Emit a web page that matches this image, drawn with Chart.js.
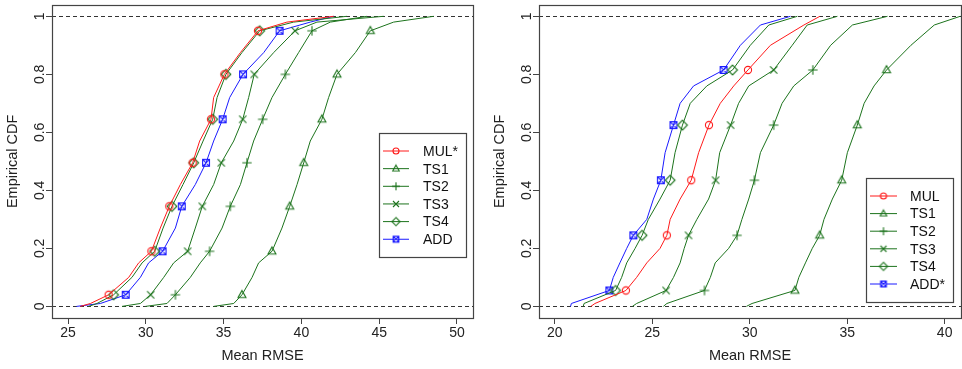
<!DOCTYPE html>
<html lang="en">
<head>
<meta charset="utf-8">
<script src="https://cdn.jsdelivr.net/npm/chart.js@4.4.0/dist/chart.umd.min.js"></script>
<style>
  body { margin: 0; background: #fff; }
  #wrap { position: relative; width: 962px; height: 369px; }
  .panel { position: absolute; top: 0; width: 481px; height: 369px; }
</style>
</head>
<body>
<div id="wrap">
  <div class="panel" style="left:0"><canvas id="left-chart" width="481" height="369"></canvas></div>
  <div class="panel" style="left:481px"><canvas id="right-chart" width="481" height="369"></canvas></div>
</div>
<script>
  // left panel: CDF levels the curves were read at, and the ones that carry a marker
  const levelsL = [0, 0.01, 0.04, 0.1, 0.15, 0.19, 0.27, 0.345, 0.42, 0.495, 0.57, 0.645, 0.72, 0.8, 0.875, 0.95, 0.98, 1];
  const markAtL = [2, 5, 7, 9, 11, 13, 15];
  const namesL = ['MUL*', 'TS1', 'TS2', 'TS3', 'TS4', 'ADD'];
  const mulL = [25.79, 26.44, 27.61, 28.90, 29.54, 30.36, 30.93, 31.51, 32.22, 33.01, 33.46, 34.19, 34.36, 35.05, 36.08, 37.21, 39.07, 42.07];
  const ts1L = [34.36, 35.65, 36.18, 36.83, 37.25, 38.11, 38.75, 39.25, 39.72, 40.15, 40.57, 41.32, 41.75, 42.29, 43.47, 44.43, 45.93, 48.50];
  const ts2L = [29.97, 31.36, 31.90, 32.86, 33.50, 34.10, 34.90, 35.43, 36.08, 36.50, 36.93, 37.51, 38.11, 38.97, 39.82, 40.68, 41.86, 44.22];
  const ts3L = [28.47, 29.65, 30.31, 31.15, 31.79, 32.69, 33.18, 33.63, 34.36, 34.85, 35.65, 36.23, 36.61, 36.97, 38.22, 39.59, 41.00, 45.29];
  const ts4L = [26.33, 26.86, 27.93, 29.11, 29.76, 30.57, 31.11, 31.68, 32.39, 33.08, 33.68, 34.30, 34.58, 35.15, 36.18, 37.32, 39.50, 42.93];
  const addL = [25.54, 27.08, 28.71, 29.65, 30.18, 31.08, 31.90, 32.31, 33.18, 33.87, 34.36, 34.94, 35.39, 36.25, 37.58, 38.60, 40.57, 42.07];
  const xTicksL = [25, 30, 35, 40, 45, 50];

  // right panel
  const levelsR = [0, 0.01, 0.055, 0.1, 0.15, 0.2, 0.245, 0.3, 0.37, 0.435, 0.53, 0.625, 0.7, 0.76, 0.815, 0.9, 0.97, 1];
  const markAtR = [2, 6, 9, 11, 14];
  const namesR = ['MUL', 'TS1', 'TS2', 'TS3', 'TS4', 'ADD*'];
  const mulR = [21.85, 22.06, 23.65, 24.20, 24.72, 25.40, 25.75, 25.92, 26.43, 27.00, 27.38, 27.91, 28.49, 29.18, 29.91, 31.06, 32.78, 33.60];
  const ts1R = [29.83, 30.12, 32.32, 32.52, 32.86, 33.21, 33.59, 33.81, 34.24, 34.72, 35.01, 35.52, 35.87, 36.38, 37.02, 38.27, 39.47, 40.80];
  const ts2R = [25.57, 25.75, 27.68, 27.98, 28.23, 28.92, 29.35, 29.60, 29.95, 30.24, 30.55, 31.23, 31.66, 32.26, 33.24, 34.15, 35.27, 37.07];
  const ts3R = [23.98, 24.20, 25.71, 26.09, 26.43, 26.64, 26.86, 27.29, 27.89, 28.25, 28.46, 29.02, 29.43, 29.95, 31.23, 32.18, 32.95, 34.50];
  const ts4R = [21.46, 21.50, 23.12, 23.43, 23.69, 24.12, 24.48, 24.80, 25.40, 25.92, 26.17, 26.55, 26.95, 27.80, 29.12, 30.03, 30.98, 32.44];
  const addR = [20.81, 20.85, 22.80, 23.00, 23.34, 23.69, 24.03, 24.72, 25.06, 25.44, 25.66, 26.09, 26.43, 27.12, 28.66, 29.52, 30.55, 32.09];
  const xTicksR = [20, 25, 30, 35, 40];

  const yTicks = [0, 0.2, 0.4, 0.6, 0.8, 1];
  const yTickLabels = ['0', '0.2', '0.4', '0.6', '0.8', '1'];

  const RED = '#ff1a1a', GREEN = '#1c731c', BLUE = '#1a1aff', INK = '#333';
  const FONT = 'Liberation Sans, Arial, Helvetica, sans-serif';
  const looks = [
    { color: RED, marker: 'circle' },
    { color: GREEN, marker: 'triangle' },
    { color: GREEN, marker: 'plus' },
    { color: GREEN, marker: 'x' },
    { color: GREEN, marker: 'diamond' },
    { color: BLUE, marker: 'boxx' }
  ];

  // small offscreen canvases used as point styles (R pch 1..5 and 7)
  function makeMarker(type, color, r) {
    const s = Math.ceil(2 * r + 6);
    const c = document.createElement('canvas');
    c.width = s; c.height = s;
    const g = c.getContext('2d');
    const m = s / 2;
    g.strokeStyle = color;
    g.lineWidth = 1.1;
    g.beginPath();
    if (type == 'circle') {
      g.arc(m, m, r, 0, Math.PI * 2);
    } else if (type == 'triangle') {
      g.moveTo(m, m - r * 1.2);
      g.lineTo(m + r * 1.1, m + r * 0.75);
      g.lineTo(m - r * 1.1, m + r * 0.75);
      g.closePath();
    } else if (type == 'plus') {
      g.moveTo(m - r * 1.3, m); g.lineTo(m + r * 1.3, m);
      g.moveTo(m, m - r * 1.3); g.lineTo(m, m + r * 1.3);
    } else if (type == 'x') {
      g.moveTo(m - r, m - r); g.lineTo(m + r, m + r);
      g.moveTo(m + r, m - r); g.lineTo(m - r, m + r);
    } else if (type == 'diamond') {
      g.moveTo(m, m - r * 1.35); g.lineTo(m + r * 1.35, m);
      g.lineTo(m, m + r * 1.35); g.lineTo(m - r * 1.35, m);
      g.closePath();
    } else {
      const h = r * 0.95;
      g.rect(m - h, m - h, 2 * h, 2 * h);
      g.moveTo(m - h, m - h); g.lineTo(m + h, m + h);
      g.moveTo(m + h, m - h); g.lineTo(m - h, m + h);
    }
    g.stroke();
    return c;
  }

  const frame = {
    id: 'frame',
    beforeDatasetsDraw(chart) {
      const { ctx, chartArea: a, scales: { y } } = chart;
      ctx.save();
      ctx.strokeStyle = INK;
      ctx.lineWidth = 1;
      ctx.setLineDash([4, 3]);
      [0, 1].forEach(v => {
        const py = Math.round(y.getPixelForValue(v)) + 0.5;
        ctx.beginPath();
        ctx.moveTo(a.left, py);
        ctx.lineTo(a.right, py);
        ctx.stroke();
      });
      ctx.restore();
    },
    afterDraw(chart) {
      const { ctx, chartArea: a } = chart;
      ctx.save();
      ctx.strokeStyle = '#444';
      ctx.lineWidth = 1.2;
      ctx.strokeRect(Math.round(a.left) + 0.5, Math.round(a.top) + 0.5,
                     Math.round(a.right - a.left), Math.round(a.bottom - a.top));
      ctx.restore();
    }
  };

  // legend drawn inside the plot, R style
  const boxLegend = {
    id: 'boxLegend',
    afterDraw(chart, args, opts) {
      const ctx = chart.ctx;
      ctx.save();
      ctx.strokeStyle = '#444';
      ctx.lineWidth = 1.2;
      ctx.strokeRect(opts.left + 0.5, opts.top + 0.5, opts.width, opts.height);
      ctx.font = '14px ' + FONT;
      ctx.textBaseline = 'middle';
      ctx.fillStyle = '#111';
      chart.data.datasets.forEach((ds, i) => {
        const yy = opts.firstRow + i * opts.rowGap;
        ctx.strokeStyle = looks[i].color;
        ctx.lineWidth = 1;
        ctx.beginPath();
        ctx.moveTo(opts.lineFrom, yy);
        ctx.lineTo(opts.lineTo, yy);
        ctx.stroke();
        const img = makeMarker(looks[i].marker, looks[i].color, 3);
        const mx = (opts.lineFrom + opts.lineTo) / 2;
        ctx.drawImage(img, mx - img.width / 2, yy - img.height / 2);
        ctx.fillText(ds.label, opts.textX, yy + 1);
      });
      ctx.restore();
    }
  };

  function makeChart(elementID, names, levels, series, markAt, xMin, xMax, xTicks, yAxisW, titlePad, padRight, legend) {
    const datasets = series.map((xs, i) => ({
      label: names[i],
      data: xs.map((x, k) => ({ x: x, y: levels[k] })),
      borderColor: looks[i].color,
      backgroundColor: looks[i].color,
      borderWidth: 1,
      tension: 0,
      fill: false,
      pointStyle: makeMarker(looks[i].marker, looks[i].color, 3.6),
      pointRadius: ctx => markAt.includes(ctx.dataIndex) ? 4 : 0,
      pointHoverRadius: 0
    }));
    return new Chart(document.getElementById(elementID), {
      type: 'line',
      data: { datasets: datasets },
      plugins: [frame, boxLegend],
      options: {
        responsive: false,
        animation: false,
        events: [],
        layout: { padding: { top: 4, right: padRight, bottom: 0, left: 0 } },
        plugins: {
          legend: { display: false },
          tooltip: { enabled: false },
          boxLegend: legend
        },
        scales: {
          x: {
            type: 'linear',
            min: xMin, max: xMax,
            afterBuildTicks: s => { s.ticks = xTicks.map(v => ({ value: v })); },
            afterFit: s => { s.height = 51; },
            grid: { drawOnChartArea: false, drawTicks: true, tickLength: 6, color: '#444' },
            border: { display: false },
            ticks: { autoSkip: false, maxRotation: 0, padding: 1, color: '#222', font: { family: FONT, size: 14 } },
            title: { display: true, text: 'Mean RMSE', color: '#222', font: { family: FONT, size: 14.5 }, padding: { top: 0, bottom: 4.3 } }
          },
          y: {
            min: -0.04, max: 1.04,
            afterBuildTicks: s => { s.ticks = yTicks.map(v => ({ value: v })); },
            afterFit: s => { s.width = yAxisW; },
            grid: { drawOnChartArea: false, drawTicks: true, tickLength: 6, color: '#444' },
            border: { display: false },
            ticks: {
              autoSkip: false, minRotation: 90, maxRotation: 90, crossAlign: 'center', padding: -3.7,
              color: '#222', font: { family: FONT, size: 14 },
              callback: (v, i) => yTickLabels[i]
            },
            title: { display: true, text: 'Empirical CDF', color: '#222', font: { family: FONT, size: 14.5 }, padding: { top: titlePad, bottom: 0 } }
          }
        }
      }
    });
  }

  makeChart('left-chart', namesL, levelsL, [mulL, ts1L, ts2L, ts3L, ts4L, addL], markAtL,
            23.97, 51.03, xTicksL, 52, 4.3, 8,
            { left: 379, top: 133, width: 87, height: 124, firstRow: 151, rowGap: 17.65, lineFrom: 383, lineTo: 409, textX: 423 });

  makeChart('right-chart', namesR, levelsR, [mulR, ts1R, ts2R, ts3R, ts4R, addR], markAtR,
            19.19, 40.84, xTicksR, 58, 10.3, 1,
            { left: 385, top: 178, width: 87, height: 124, firstRow: 196, rowGap: 17.6, lineFrom: 389, lineTo: 416, textX: 429 });
</script>
</body>
</html>
